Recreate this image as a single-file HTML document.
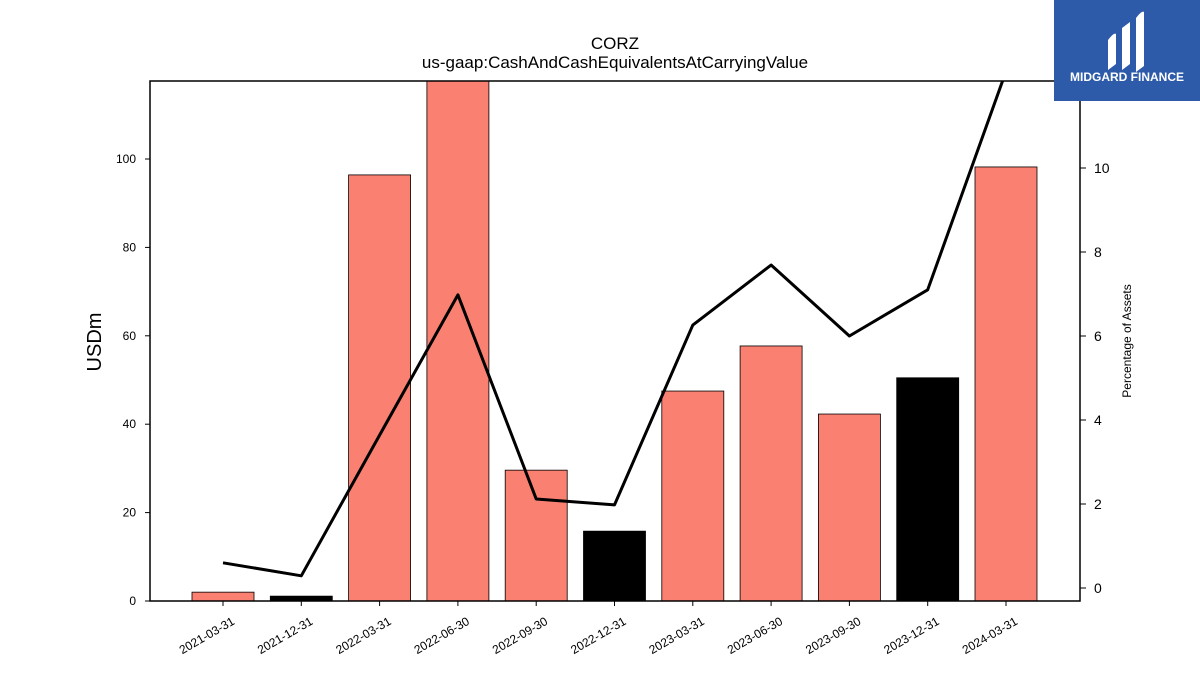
<!DOCTYPE html>
<html><head><meta charset="utf-8"><style>
html,body{margin:0;padding:0;background:#fff;}
svg{display:block;font-family:"Liberation Sans","DejaVu Sans",sans-serif;}
</style></head><body>
<svg id="chart" width="1200" height="675" viewBox="0 0 1200 675">
<text x="615" y="49" font-size="17" text-anchor="middle">CORZ</text>
<text x="615" y="68" font-size="17" text-anchor="middle">us-gaap:CashAndCashEquivalentsAtCarryingValue</text>
<defs><clipPath id="plotclip"><rect x="150" y="81" width="930" height="520"/></clipPath></defs>
<g id="bars" clip-path="url(#plotclip)"></g>
<g id="line" clip-path="url(#plotclip)"></g>
<rect x="150" y="81" width="930" height="520" fill="none" stroke="#000" stroke-width="1.5"/>
<g id="xticks"></g><g id="yticks"></g><g id="y2ticks"></g>
<text transform="translate(101,342) rotate(-90)" font-size="20" text-anchor="middle">USDm</text>
<text transform="translate(1131,341) rotate(-90)" font-size="12" text-anchor="middle">Percentage of Assets</text>
<g>
<rect x="1054" y="0" width="146" height="101" fill="#2d5ba9"/>
<path d="M1108 40 q6-8 8-6 v30 l-8 6z M1122 28 l8-6 v42 l-8 6z M1136 18 q6-8 8-6 v54 l-8 6z" fill="#fff"/>
<text x="1127" y="81" font-size="12" font-weight="bold" fill="#fff" text-anchor="middle">MIDGARD FINANCE</text>
</g>
</svg>
<script>
const categories=["2021-03-31","2021-12-31","2022-03-31","2022-06-30","2022-09-30","2022-12-31","2023-03-31","2023-06-30","2023-09-30","2023-12-31","2024-03-31"];
const cashValues=[2.0,1.1,96.4,125,29.6,15.8,47.5,57.7,42.3,50.5,98.2];
const highlight=[false,true,false,false,false,true,false,false,false,true,false];
const pctAssets=[0.6,0.29,3.64,6.98,2.12,1.98,6.26,7.69,6.0,7.1,12.3];
const yTicks=[0,20,40,60,80,100];
const y2Ticks=[0,2,4,6,8,10];
const NS="http://www.w3.org/2000/svg";
const xPos=i=>223+i*78.3;
const yL=v=>601-v*4.42;
const yR=v=>588-v*42;
function mk(tag,attrs,parent){const e=document.createElementNS(NS,tag);for(const k in attrs)e.setAttribute(k,attrs[k]);parent.appendChild(e);return e;}
const bars=document.getElementById('bars');
categories.forEach((c,i)=>{
 const r=mk('rect',{x:xPos(i)-31,y:yL(cashValues[i]),width:62,height:601-yL(cashValues[i]),fill:highlight[i]?'#000':'#fa8072',stroke:'#000','stroke-width':0.8},bars);
 
 
});
const line=document.getElementById('line');
const pl=mk('polyline',{points:pctAssets.map((v,i)=>xPos(i)+','+yR(v)).join(' '),fill:'none',stroke:'#000','stroke-width':3,'stroke-linejoin':'round'},line);


const xt=document.getElementById('xticks');
categories.forEach((c,i)=>{
 const x=xPos(i);
 mk('line',{x1:x,y1:601,x2:x,y2:606,stroke:'#000'},xt);
 const t=mk('text',{transform:`translate(${x+8},${616}) rotate(-30)`,'font-size':12,'text-anchor':'end','dominant-baseline':'hanging'},xt);
 t.textContent=c;
 
 
});
const yt=document.getElementById('yticks');
yTicks.forEach(v=>{
 const y=yL(v);
 mk('line',{x1:145,y1:y,x2:150,y2:y,stroke:'#000'},yt);
 const t=mk('text',{x:136,y:y+4,'font-size':12,'text-anchor':'end'},yt);
 t.textContent=v;
 
 
});
const y2=document.getElementById('y2ticks');
y2Ticks.forEach(v=>{
 const y=yR(v);
 mk('line',{x1:1080,y1:y,x2:1086,y2:y,stroke:'#000'},y2);
 const t=mk('text',{x:1094,y:y+5,'font-size':14},y2);
 t.textContent=v;
 
 
});
</script>
</body></html>
